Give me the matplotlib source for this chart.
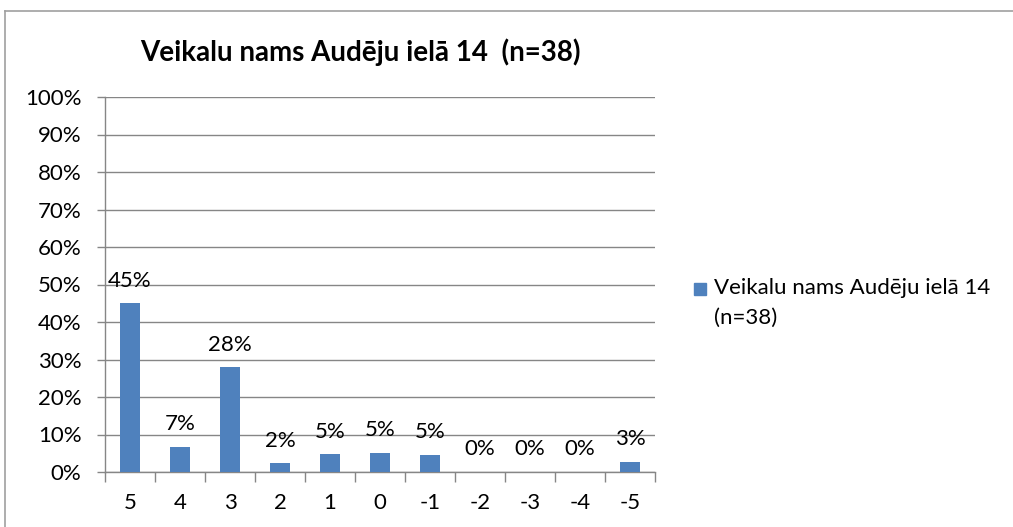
import matplotlib.pyplot as plt
from matplotlib.patches import Rectangle
from matplotlib.lines import Line2D

# Survey answers for the shop, share of respondents per score
scores = ['5', '4', '3', '2', '1', '0', '-1', '-2', '-3', '-4', '-5']
shares = [45.0, 6.7, 27.9, 2.3, 4.7, 5.2, 4.6, 0.0, 0.0, 0.0, 2.8]
series_name = 'Veikalu nams Audēju ielā 14'
series_n = '(n=38)'
title = 'Veikalu nams Audēju ielā 14  (n=38)'

blue = '#4F81BD'
grey = '#868686'
fs = 16

plt.rcParams['font.family'] = ['Lato', 'DejaVu Sans']

W, H = 1013, 527
fig = plt.figure(figsize=(W / 100, H / 100), dpi=100)

# chart frame (left and top edges visible)
fig.add_artist(Line2D([5 / W, 5 / W], [0, 1 - 11 / H], color='#A0A0A0', lw=1.2,
                      transform=fig.transFigure))
fig.add_artist(Line2D([5 / W, 1], [1 - 11 / H, 1 - 11 / H], color='#A0A0A0', lw=1.2,
                      transform=fig.transFigure))

ax = fig.add_axes([105 / W, 55 / H, 550 / W, 375 / H])

x = list(range(len(scores)))
ax.bar(x, shares, width=0.4, color=blue, zorder=3)

for xi, v in zip(x, shares):
    ax.annotate(f'{v:.0f}%', (xi, v), xytext=(0, 12), textcoords='offset points',
                ha='center', va='baseline', fontsize=fs)

ax.set_xlim(-0.5, len(scores) - 0.5)
ax.set_ylim(0, 100)
ax.set_yticks(range(0, 101, 10))
ax.set_yticklabels([f'{t}%' for t in range(0, 101, 10)], fontsize=fs)
ax.yaxis.grid(True, color=grey, lw=1, zorder=0)

ax.set_xticks(x)
ax.set_xticklabels(scores, fontsize=fs)
ax.tick_params(axis='x', length=0, pad=15)
ax.set_xticks([i - 0.5 for i in range(len(scores) + 1)], minor=True)
ax.tick_params(axis='x', which='minor', length=7, color=grey, width=1)
ax.tick_params(axis='y', length=6, color=grey, width=1, pad=11)

for side in ['top', 'right']:
    ax.spines[side].set_visible(False)
for side in ['left', 'bottom']:
    ax.spines[side].set_color(grey)
    ax.spines[side].set_linewidth(1)

fig.text(360 / W, 1 - 52 / H, title, ha='center', va='center',
         fontsize=20, fontweight='bold')

# legend entry
fig.add_artist(Rectangle((694 / W, 1 - 295 / H), 12 / W, 12 / H, color=blue,
                         transform=fig.transFigure))
fig.text(714 / W, 1 - 288 / H, series_name, ha='left', va='center', fontsize=fs)
fig.text(714 / W, 1 - 318 / H, series_n, ha='left', va='center', fontsize=fs)

fig.savefig('out.png', dpi=100)
